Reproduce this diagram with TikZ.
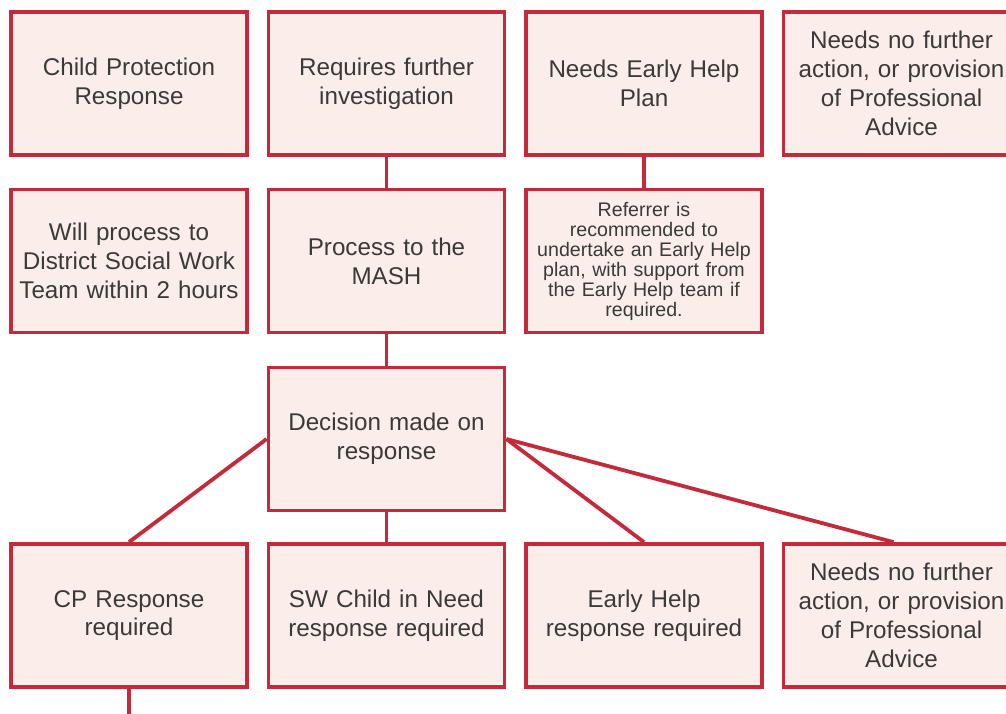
\documentclass[tikz,border=0pt]{standalone}
\usepackage{fontspec}
\setmainfont{Liberation Sans}
\definecolor{boxred}{HTML}{C42A3A}
\definecolor{boxfill}{HTML}{FBEDEA}
\definecolor{txt}{HTML}{3A3A3A}
\begin{document}
\begin{tikzpicture}[x=1pt,y=-1pt,
  box/.style={draw=boxred, fill=boxfill, line width=3.8pt, rectangle,
    minimum width=236pt, minimum height=143pt, inner sep=4pt,
    text width=228pt, align=center, text=txt,
    font=\fontsize{24.2}{28.8}\selectfont},
  smallbox/.style={box, font=\fontsize{19.6}{20}\selectfont},
  link/.style={draw=boxred, line width=3.8pt}]
\useasboundingbox (0,0) rectangle (1006,714);
\clip (0,0) rectangle (1006,714);
\fill[white] (0,0) rectangle (1006,714);
% row 1
\node[box] (A1) at (129,83.5) {Child Protection\\Response};
\node[box] (B1) at (386.5,83.5) {Requires further\\investigation};
\node[box] (C1) at (644,83.5) {Needs Early Help\\Plan};
\node[box] (D1) at (901.5,83.5) {Needs no further\\action, or provision\\of Professional\\Advice};
% row 2
\node[box] (A2) at (129,261) {Will process to\\District Social Work\\Team within 2 hours};
\node[box] (B2) at (386.5,261) {Process to the\\MASH};
\node[smallbox] (C2) at (644,261) {Referrer is\\recommended to\\undertake an Early Help\\plan, with support from\\the Early Help team if\\required.};
% row 3
\node[box] (B3) at (386.5,439) {Decision made on\\response};
% row 4
\node[box] (A4) at (129,615.5) {CP Response\\required};
\node[box] (B4) at (386.5,615.5) {SW Child in Need\\response required};
\node[box] (C4) at (644,615.5) {Early Help\\response required};
\node[box] (D4) at (901.5,615.5) {Needs no further\\action, or provision\\of Professional\\Advice};
\coordinate (out) at (129,730);
% connectors
\path[link] (B1.south) -- (B2.north);
\path[link] (B2.south) -- (B3.north);
\path[link] (C1.south) -- (C2.north);
\path[link] (B3.south) -- (B4.north);
\path[link] (B3.west) -- (A4.north);
\path[link] (B3.east) -- (C4.north);
\path[link] (B3.east) -- ([xshift=-8pt]D4.north);
\path[link] (A4.south) -- (out);
\end{tikzpicture}
\end{document}
